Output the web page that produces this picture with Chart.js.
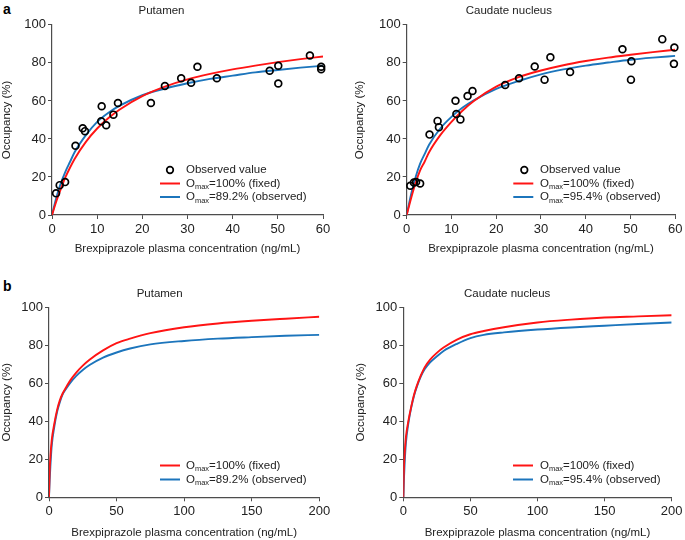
<!DOCTYPE html>
<html>
<head>
<meta charset="utf-8">
<script src="https://cdn.jsdelivr.net/npm/chart.js@4.4.1/dist/chart.umd.min.js"></script>
<style>
  html, body { margin:0; padding:0; background:#fff; }
  body { width:685px; height:540px; position:relative; overflow:hidden; font-family:"Liberation Sans", Arial, sans-serif; }
  .panel { position:absolute; }
  .lab { position:absolute; font-weight:bold; font-size:14px; color:#000; }
</style>
</head>
<body>
<div class="lab" style="left:3px; top:1px;">a</div>
<div class="lab" style="left:3px; top:278px;">b</div>
<div class="panel" style="left:0; top:0;"><canvas id="c1" width="340" height="256"></canvas></div>
<div class="panel" style="left:340px; top:0;"><canvas id="c2" width="345" height="256"></canvas></div>
<div class="panel" style="left:0; top:270px;"><canvas id="c3" width="340" height="270"></canvas></div>
<div class="panel" style="left:340px; top:270px;"><canvas id="c4" width="345" height="270"></canvas></div>
<script>
// ---------- DATA ----------
const yTicks = [0, 20, 40, 60, 80, 100];
const xTicksA = [0, 10, 20, 30, 40, 50, 60];
const xTicksB = [0, 50, 100, 150, 200];

// Observed values (panel a)
const putX = [0.9,1.7,2.9,5.2,6.8,7.3,10.9,11.0,12.0,13.6,14.6,21.9,25.0,28.6,30.8,32.2,36.5,48.2,50.1,50.1,57.1,59.6,59.6];
const putY = [11.4,15.7,17.3,36.4,45.6,44.1,49.3,57.2,47.2,52.8,58.9,58.9,67.8,71.9,69.6,78.0,71.9,75.9,78.5,69.2,83.9,78.0,76.7];
const cauX = [0.8,1.6,2.1,3.0,5.1,6.9,7.2,10.9,11.1,12.0,13.6,14.7,22.0,25.1,28.6,30.8,32.1,36.5,48.2,50.2,50.1,57.1,59.8,59.7];
const cauY = [15.4,17.1,17.3,16.6,42.3,49.5,46.2,60.1,53.1,50.3,62.6,65.2,68.4,71.9,78.1,71.2,83.0,75.2,87.2,80.9,71.2,92.5,88.1,79.5];

// Fitted curves (panel a)
const curveXA   = [0,1,2,3,4,5,7.5,10,12.5,15,20,25,30,35,40,45,50,55,60];
const putFixedA = [0,7.5,14,20,25,29.5,38.5,45.5,51,55.5,62.5,67.5,71.3,74.2,76.6,78.6,80.4,82,83.4];
const putObsA   = [0,9.5,17,23,28,33,42,49,53.8,57.5,63,66.5,69.3,71.6,73.3,75,76.3,77.5,78.5];
const cauFixedA = [0,9,17,23.5,28,33,42,49,55,60,67.5,72.5,76,78.8,81,82.8,84.3,85.7,86.9];
const cauObsA   = [0,11,20,27,32,37,45.5,51.6,56.5,60.3,66.3,70.5,74,76.6,78.6,80.2,81.7,82.8,83.7];

// Simulated curves (panel b)
const curveXB   = [0,0.5,1,2,4,6,8,10,13,16,20,25,30,40,50,60,75,100,125,150,175,200];
const putFixedB = [0,14,21,30,39,46,51,54.5,58.3,61.8,65.5,69.3,72.4,77.3,81.1,83.5,86.4,89.5,91.5,92.9,94,95];
const putObsB   = [0,9,16,27,37.5,45,50,54,57.5,60.5,63.8,67,69.6,73.5,76.2,78.3,80.5,82.3,83.5,84.3,85,85.5];
const cauFixedB = [0,16,23,32,41,48,54,58.5,64,68.5,72.5,76,78.8,83,85.8,87.5,89.5,92,93.5,94.6,95.2,95.8];
const cauObsB   = [0,10,18,29,40,47.5,53.5,58,63.5,67.5,71,74.2,77,80.8,83.8,85.5,86.8,88.3,89.4,90.3,91.2,92];

const legendLabels = {
  observed: 'Observed value',
  fixed: ['O', 'max', '=100% (fixed)'],
  putObs: ['O', 'max', '=89.2% (observed)'],
  cauObs: ['O', 'max', '=95.4% (observed)']
};
const titles = ['Putamen', 'Caudate nucleus'];
const xTitle = 'Brexpiprazole plasma concentration (ng/mL)';
const yTitle = 'Occupancy (%)';

// ---------- STYLE ----------
const FONT = '"Liberation Sans", Arial, sans-serif';
const RED = '#FF1414';
const BLUE = '#1C75BC';
const AXIS = '#4d4d4d';
const TEXT = '#222222';

const pts = (xs, ys) => xs.map((x, i) => ({x: x, y: ys[i]}));

const legendPlugin = {
  id: 'subLegend',
  afterDraw(chart, args, o) {
    if (!o || !o.items) return;
    const ctx = chart.ctx;
    ctx.save();
    o.items.forEach((it, i) => {
      const y = o.y + i * o.dy;
      if (it.type === 'circle') {
        ctx.beginPath();
        ctx.arc(o.markX, y, 3.3, 0, Math.PI * 2);
        ctx.lineWidth = 1.7; ctx.strokeStyle = '#000'; ctx.stroke();
      } else {
        ctx.beginPath();
        ctx.moveTo(o.lineX0, y); ctx.lineTo(o.lineX1, y);
        ctx.lineWidth = 2; ctx.strokeStyle = it.color; ctx.stroke();
      }
      ctx.fillStyle = TEXT; ctx.textBaseline = 'middle'; ctx.textAlign = 'left';
      let x = o.textX;
      if (typeof it.text === 'string') {
        ctx.font = '11.5px ' + FONT;
        ctx.fillText(it.text, x, y);
      } else {
        ctx.font = '11.5px ' + FONT;
        ctx.fillText(it.text[0], x, y); x += ctx.measureText(it.text[0]).width;
        ctx.font = '7.5px ' + FONT;
        ctx.fillText(it.text[1], x, y + 3.5); x += ctx.measureText(it.text[1]).width;
        ctx.font = '11.5px ' + FONT;
        ctx.fillText(it.text[2], x, y);
      }
    });
    ctx.restore();
  }
};

function makeChart(id, cfg) {
  const datasets = [];
  datasets.push({ data: pts(cfg.cx, cfg.fixed), showLine: true, borderColor: RED, borderWidth: 1.9,
    pointRadius: 0, cubicInterpolationMode: 'monotone', fill: false, order: 2 });
  datasets.push({ data: pts(cfg.cx, cfg.obs), showLine: true, borderColor: BLUE, borderWidth: 1.9,
    pointRadius: 0, cubicInterpolationMode: 'monotone', fill: false, order: 3 });
  if (cfg.px) {
    datasets.push({ data: pts(cfg.px, cfg.py), showLine: false, pointRadius: 3.4, pointBorderWidth: 1.7,
      pointBorderColor: '#000', pointBackgroundColor: 'rgba(255,255,255,0)', clip: false, order: 1 });
  }
  return new Chart(document.getElementById(id), {
    type: 'scatter',
    data: { datasets },
    plugins: [legendPlugin],
    options: {
      responsive: false, animation: false, events: [],
      layout: { padding: { left: 0, right: cfg.padR, top: 0, bottom: 0 } },
      plugins: {
        legend: { display: false }, tooltip: { enabled: false },
        title: { display: true, text: cfg.title, color: TEXT,
          font: { family: FONT, size: 11.5, weight: 'normal', lineHeight: 1.2 },
          padding: { top: cfg.tPadT, bottom: cfg.tPadB } },
        subLegend: cfg.legend
      },
      scales: {
        x: {
          type: 'linear', min: 0, max: cfg.xmax,
          afterBuildTicks: (s) => { s.ticks = cfg.xticks.map(v => ({value: v})); },
          afterFit: (s) => { s.height = cfg.xH; },
          grid: { display: true, drawOnChartArea: false, drawTicks: true, tickLength: 4, color: AXIS, lineWidth: 1 },
          border: { display: true, color: AXIS, width: 1.2 },
          ticks: { color: TEXT, padding: 2.5, font: { family: FONT, size: 13 }, maxRotation: 0 },
          title: { display: true, text: xTitle, color: TEXT, font: { family: FONT, size: 11.5, lineHeight: 1.2 },
            padding: { top: 0, bottom: cfg.xtPadB } }
        },
        y: {
          type: 'linear', min: 0, max: 100,
          afterBuildTicks: (s) => { s.ticks = yTicks.map(v => ({value: v})); },
          afterFit: (s) => { s.width = cfg.yW; },
          grid: { display: true, drawOnChartArea: false, drawTicks: true, tickLength: 4, color: AXIS, lineWidth: 1 },
          border: { display: true, color: AXIS, width: 1.2 },
          ticks: { color: TEXT, padding: 2, font: { family: FONT, size: 13 } },
          title: { display: true, text: yTitle, color: TEXT, font: { family: FONT, size: 11.5, lineHeight: 1.2 },
            padding: { top: cfg.ytPadT, bottom: 0 } }
        }
      }
    }
  });
}

const legA = (obsLbl, mx, lx0, lx1, tx) => ({ markX: mx, lineX0: lx0, lineX1: lx1, textX: tx, y: 170, dy: 13.5,
  items: [ {type: 'circle', text: legendLabels.observed},
           {type: 'line', color: RED, text: legendLabels.fixed},
           {type: 'line', color: BLUE, text: obsLbl} ] });
const legB = (obsLbl, lx0, lx1, tx) => ({ lineX0: lx0, lineX1: lx1, textX: tx, y: 195.5, dy: 14,
  items: [ {type: 'line', color: RED, text: legendLabels.fixed},
           {type: 'line', color: BLUE, text: obsLbl} ] });

makeChart('c1', { title: titles[0], cx: curveXA, fixed: putFixedA, obs: putObsA, px: putX, py: putY,
  xmax: 60, xticks: xTicksA, padR: 17, yW: 52, xH: 41, tPadT: 4.4, tPadB: 6.7, xtPadB: 0.4, ytPadT: 0,
  legend: legA(legendLabels.putObs, 170, 160, 180, 186) });
makeChart('c2', { title: titles[1], cx: curveXA, fixed: cauFixedA, obs: cauObsA, px: cauX, py: cauY,
  xmax: 60, xticks: xTicksA, padR: 7.3, yW: 66.7, xH: 41, tPadT: 4.4, tPadB: 6.7, xtPadB: 0.4, ytPadT: 13.4,
  legend: legA(legendLabels.cauObs, 184.3, 173.3, 193.3, 200) });
makeChart('c3', { title: titles[0], cx: curveXB, fixed: putFixedB, obs: putObsB,
  xmax: 200, xticks: xTicksB, padR: 20.7, yW: 49, xH: 42.7, tPadT: 16.7, tPadB: 6.8, xtPadB: 0.4, ytPadT: 0,
  legend: legB(legendLabels.putObs, 160, 180, 186) });
makeChart('c4', { title: titles[1], cx: curveXB, fixed: cauFixedB, obs: cauObsB,
  xmax: 200, xticks: xTicksB, padR: 10.7, yW: 63.3, xH: 42.7, tPadT: 16.7, tPadB: 6.8, xtPadB: 0.4, ytPadT: 14,
  legend: legB(legendLabels.cauObs, 173, 193, 200) });
</script>
</body>
</html>
